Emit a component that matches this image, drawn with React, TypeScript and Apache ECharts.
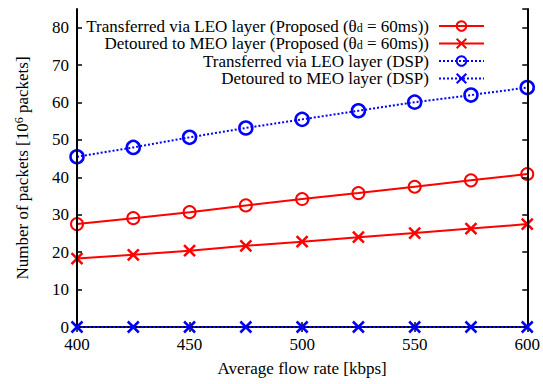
import React, { useEffect, useRef } from "react";
import * as echarts from "echarts";

const flowRates = [400, 425, 450, 475, 500, 525, 550, 575, 600];
const leoProposed = [27.5, 29.1, 30.7, 32.5, 34.2, 35.8, 37.5, 39.2, 40.9];
const meoProposed = [18.3, 19.3, 20.4, 21.7, 22.8, 24.0, 25.1, 26.3, 27.5];
const leoDSP = [45.5, 48.0, 50.7, 53.2, 55.5, 57.8, 60.1, 62.0, 64.0];
const meoDSP = [0, 0, 0, 0, 0, 0, 0, 0, 0];

const seriesNames = [
  "Transferred via LEO layer (Proposed (θd = 60ms))",
  "Detoured to MEO layer (Proposed (θd = 60ms))",
  "Transferred via LEO layer (DSP)",
  "Detoured to MEO layer (DSP)",
];

const FONT = "'Liberation Serif', 'DejaVu Serif', serif";
const RED = "#ff0000";
const BLUE = "#0000ff";
const CROSS = "path://M0 0L10 10M10 0L0 10";

function pairs(vals: number[]) {
  return flowRates.map((x, i) => [x, vals[i]]);
}

export default function App() {
  const ref = useRef<HTMLDivElement>(null);
  useEffect(() => {
    if (!ref.current) return;
    const chart = echarts.init(ref.current, undefined, { renderer: "svg" });
    const legendTops = [17.5, 35, 52.5, 70];
    const legends = seriesNames.map((name, i) => ({
      data: [name],
      orient: "vertical",
      right: 58,
      top: legendTops[i],
      align: "right",
      itemWidth: 45,
      itemHeight: 12,
      padding: 0,
      selectedMode: false,
      formatter: (n: string) => n.replace("θd", "θ{sub|d}"),
      textStyle: {
        fontFamily: FONT,
        fontSize: 17,
        lineHeight: 15,
        color: "#000",
        padding: [0, 5, 0, 0],
        rich: {
          sub: { fontFamily: FONT, fontSize: 12, lineHeight: 13, verticalAlign: "bottom", padding: [2, 0, 0, 0] },
        },
      },
    }));
    const axisCommon = {
      axisLine: { show: true, lineStyle: { color: "#000", width: 2 } },
      axisTick: { show: true, inside: true, length: 5, lineStyle: { color: "#000", width: 1.5 } },
      splitLine: { show: false },
    };
    chart.setOption({
      animation: false,
      backgroundColor: "#fff",
      grid: { left: 77, right: 15, top: 9, bottom: 57, containLabel: false },
      legend: legends,
      xAxis: [
        {
          type: "value",
          min: 400,
          max: 600,
          interval: 50,
          position: "bottom",
          z: 5,
          ...axisCommon,
          axisLabel: { fontFamily: FONT, fontSize: 17, color: "#000", margin: 9 },
          name: "Average flow rate [kbps]",
          nameLocation: "middle",
          nameGap: 33,
          nameTextStyle: { fontFamily: FONT, fontSize: 17, color: "#000" },
        },
        {
          type: "value",
          min: 400,
          max: 600,
          interval: 50,
          position: "top",
          z: 5,
          ...axisCommon,
          axisLabel: { show: false },
        },
      ],
      yAxis: [
        {
          type: "value",
          min: 0,
          max: 85,
          interval: 10,
          position: "left",
          z: 5,
          ...axisCommon,
          axisLabel: { fontFamily: FONT, fontSize: 17, color: "#000", margin: 8, showMaxLabel: false },
          name: "Number of packets [10{sup|6} packets]",
          nameLocation: "middle",
          nameGap: 46,
          nameRotate: 90,
          nameTextStyle: {
            fontFamily: FONT,
            fontSize: 17,
            color: "#000",
            rich: {
              sup: { fontFamily: FONT, fontSize: 12, verticalAlign: "top", padding: [0, 0, 6, 0] },
            },
          },
        },
        {
          type: "value",
          min: 0,
          max: 85,
          interval: 10,
          position: "right",
          z: 5,
          ...axisCommon,
          axisLabel: { show: false },
        },
      ],
      series: [
        {
          name: seriesNames[0],
          type: "line",
          data: pairs(leoProposed),
          clip: false,
          symbol: "circle",
          symbolSize: 12,
          lineStyle: { color: RED, width: 2, type: "solid" },
          itemStyle: { color: "none", borderColor: RED, borderWidth: 2 },
          z: 3,
        },
        {
          name: seriesNames[1],
          type: "line",
          data: pairs(meoProposed),
          clip: false,
          symbol: CROSS,
          symbolSize: 11,
          lineStyle: { color: RED, width: 2, type: "solid" },
          itemStyle: { color: "none", borderColor: RED, borderWidth: 2.5 },
          z: 3,
        },
        {
          name: seriesNames[2],
          type: "line",
          data: pairs(leoDSP),
          clip: false,
          symbol: "circle",
          symbolSize: 13,
          lineStyle: { color: BLUE, width: 2, type: [2, 2] },
          itemStyle: { color: "none", borderColor: BLUE, borderWidth: 2.5 },
          z: 3,
        },
        {
          name: seriesNames[3],
          type: "line",
          data: pairs(meoDSP),
          clip: false,
          symbol: CROSS,
          symbolSize: 11,
          lineStyle: { color: BLUE, width: 2, type: [2, 2] },
          itemStyle: { color: "none", borderColor: BLUE, borderWidth: 2.5 },
          z: 6,
        },
      ],
    });
    return () => chart.dispose();
  }, []);
  return (
    <div
      ref={ref}
      style={{ position: "fixed", left: 0, top: 0, width: 543, height: 384 }}
    />
  );
}
